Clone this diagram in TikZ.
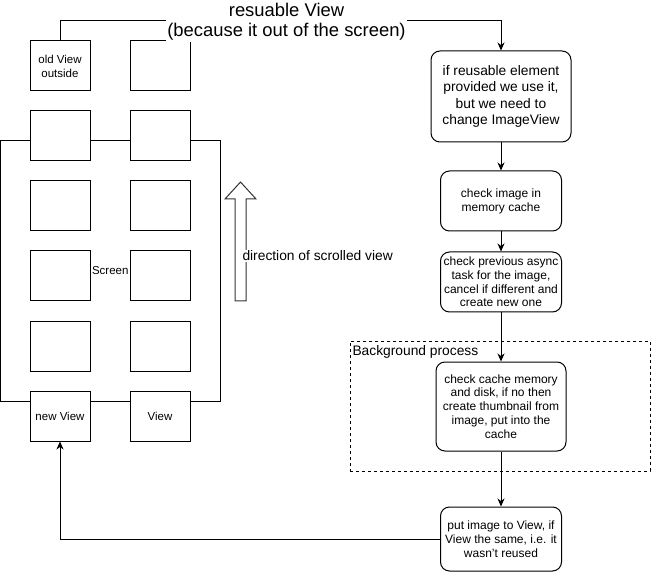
\documentclass[tikz,border=0pt]{standalone}
\usepackage{fontspec}
\setmainfont{Liberation Sans}
\usetikzlibrary{arrows.meta}

\begin{document}
\begin{tikzpicture}[x=1pt,y=-1pt,line width=1pt,
	cell/.style={draw,fill=white,minimum width=60pt,minimum height=50pt,inner sep=0pt,
		align=center,font=\fontsize{11.5}{13.8}\selectfont},
	procbox/.style={draw,fill=white,rounded corners=9pt,inner sep=0pt,align=center,
		font=\fontsize{12}{13.8}\selectfont},
	conn/.style={-{Stealth[length=8pt,width=7pt,inset=2.5pt]}},
	lbl/.style={fill=white,inner sep=1pt,align=center}]
	\useasboundingbox (0,0) rectangle (651,572);
	%screen + views
		\node[draw,minimum width=219.5pt,minimum height=260pt,font=\fontsize{11.5}{13.8}\selectfont]
			(screen) at (110.25,271) {Screen};
		\node[cell] (oldv) at (60,66) {old View\\outside};
		\node[cell] (v01) at (160,66) {};
		\node[cell] (v10) at (60,136) {};
		\node[cell] (v11) at (160,136) {};
		\node[cell] (v20) at (60,206) {};
		\node[cell] (v21) at (160,206) {};
		\node[cell] (v30) at (60,276) {};
		\node[cell] (v31) at (160,276) {};
		\node[cell] (v40) at (60,346) {};
		\node[cell] (v41) at (160,346) {};
		\node[cell] (newv) at (60,416) {new View};
		\node[cell] (v51) at (160,416) {View};
	%scroll direction
		\draw[black!80] (235,301) -- (235,199) -- (225,199) -- (240.5,182) -- (256,199)
			-- (246,199) -- (246,301) -- cycle;
		\node[lbl,anchor=west,font=\fontsize{13.8}{16.5}\selectfont] (dirlbl) at (241,256)
			{direction of scrolled view};
	%background process
		\node[draw,dash pattern=on 3pt off 3pt,minimum width=300pt,minimum height=130pt]
			(bg) at (500,406) {};
		\node[anchor=west,inner sep=1pt,font=\fontsize{13.8}{16.5}\selectfont] (bglbl) at (351,352)
			{Background process};
	%steps
		\node[procbox,minimum width=140pt,minimum height=91pt,font=\fontsize{13.8}{16.2}\selectfont]
			(reuse) at (501,96.5)
			{if reusable element\\provided we use it,\\but we need to\\change ImageView};
		\node[procbox,minimum width=121pt,minimum height=60pt] (memcache) at (501,201)
			{check image in\\memory cache};
		\node[procbox,minimum width=121pt,minimum height=60pt] (asynctask) at (501,282)
			{check previous async\\task for the image,\\cancel if different and\\create new one};
		\node[procbox,minimum width=130pt,minimum height=89pt] (diskcache) at (501,406.5)
			{check cache memory\\and disk, if no then\\create thumbnail from\\image, put into the\\cache};
		\node[procbox,minimum width=121pt,minimum height=64pt] (putimg) at (501,539)
			{put image to View, if\\View the same, i.e. it\\wasn't reused};
	%connectors
		\draw[conn] (oldv.north) -- ++(0,-20) -| (reuse.north);
		\node[lbl,font=\fontsize{18.4}{20}\selectfont] (reuselbl) at (286.5,22)
			{resuable View\\(because it out of the screen)};
		\draw[conn] (reuse) -- (memcache);
		\draw[conn] (memcache) -- (asynctask);
		\draw[conn] (asynctask) -- (diskcache);
		\draw[conn] (diskcache) -- (putimg);
		\draw[conn] (putimg.west) -| (newv.south);
\end{tikzpicture}
\end{document}
